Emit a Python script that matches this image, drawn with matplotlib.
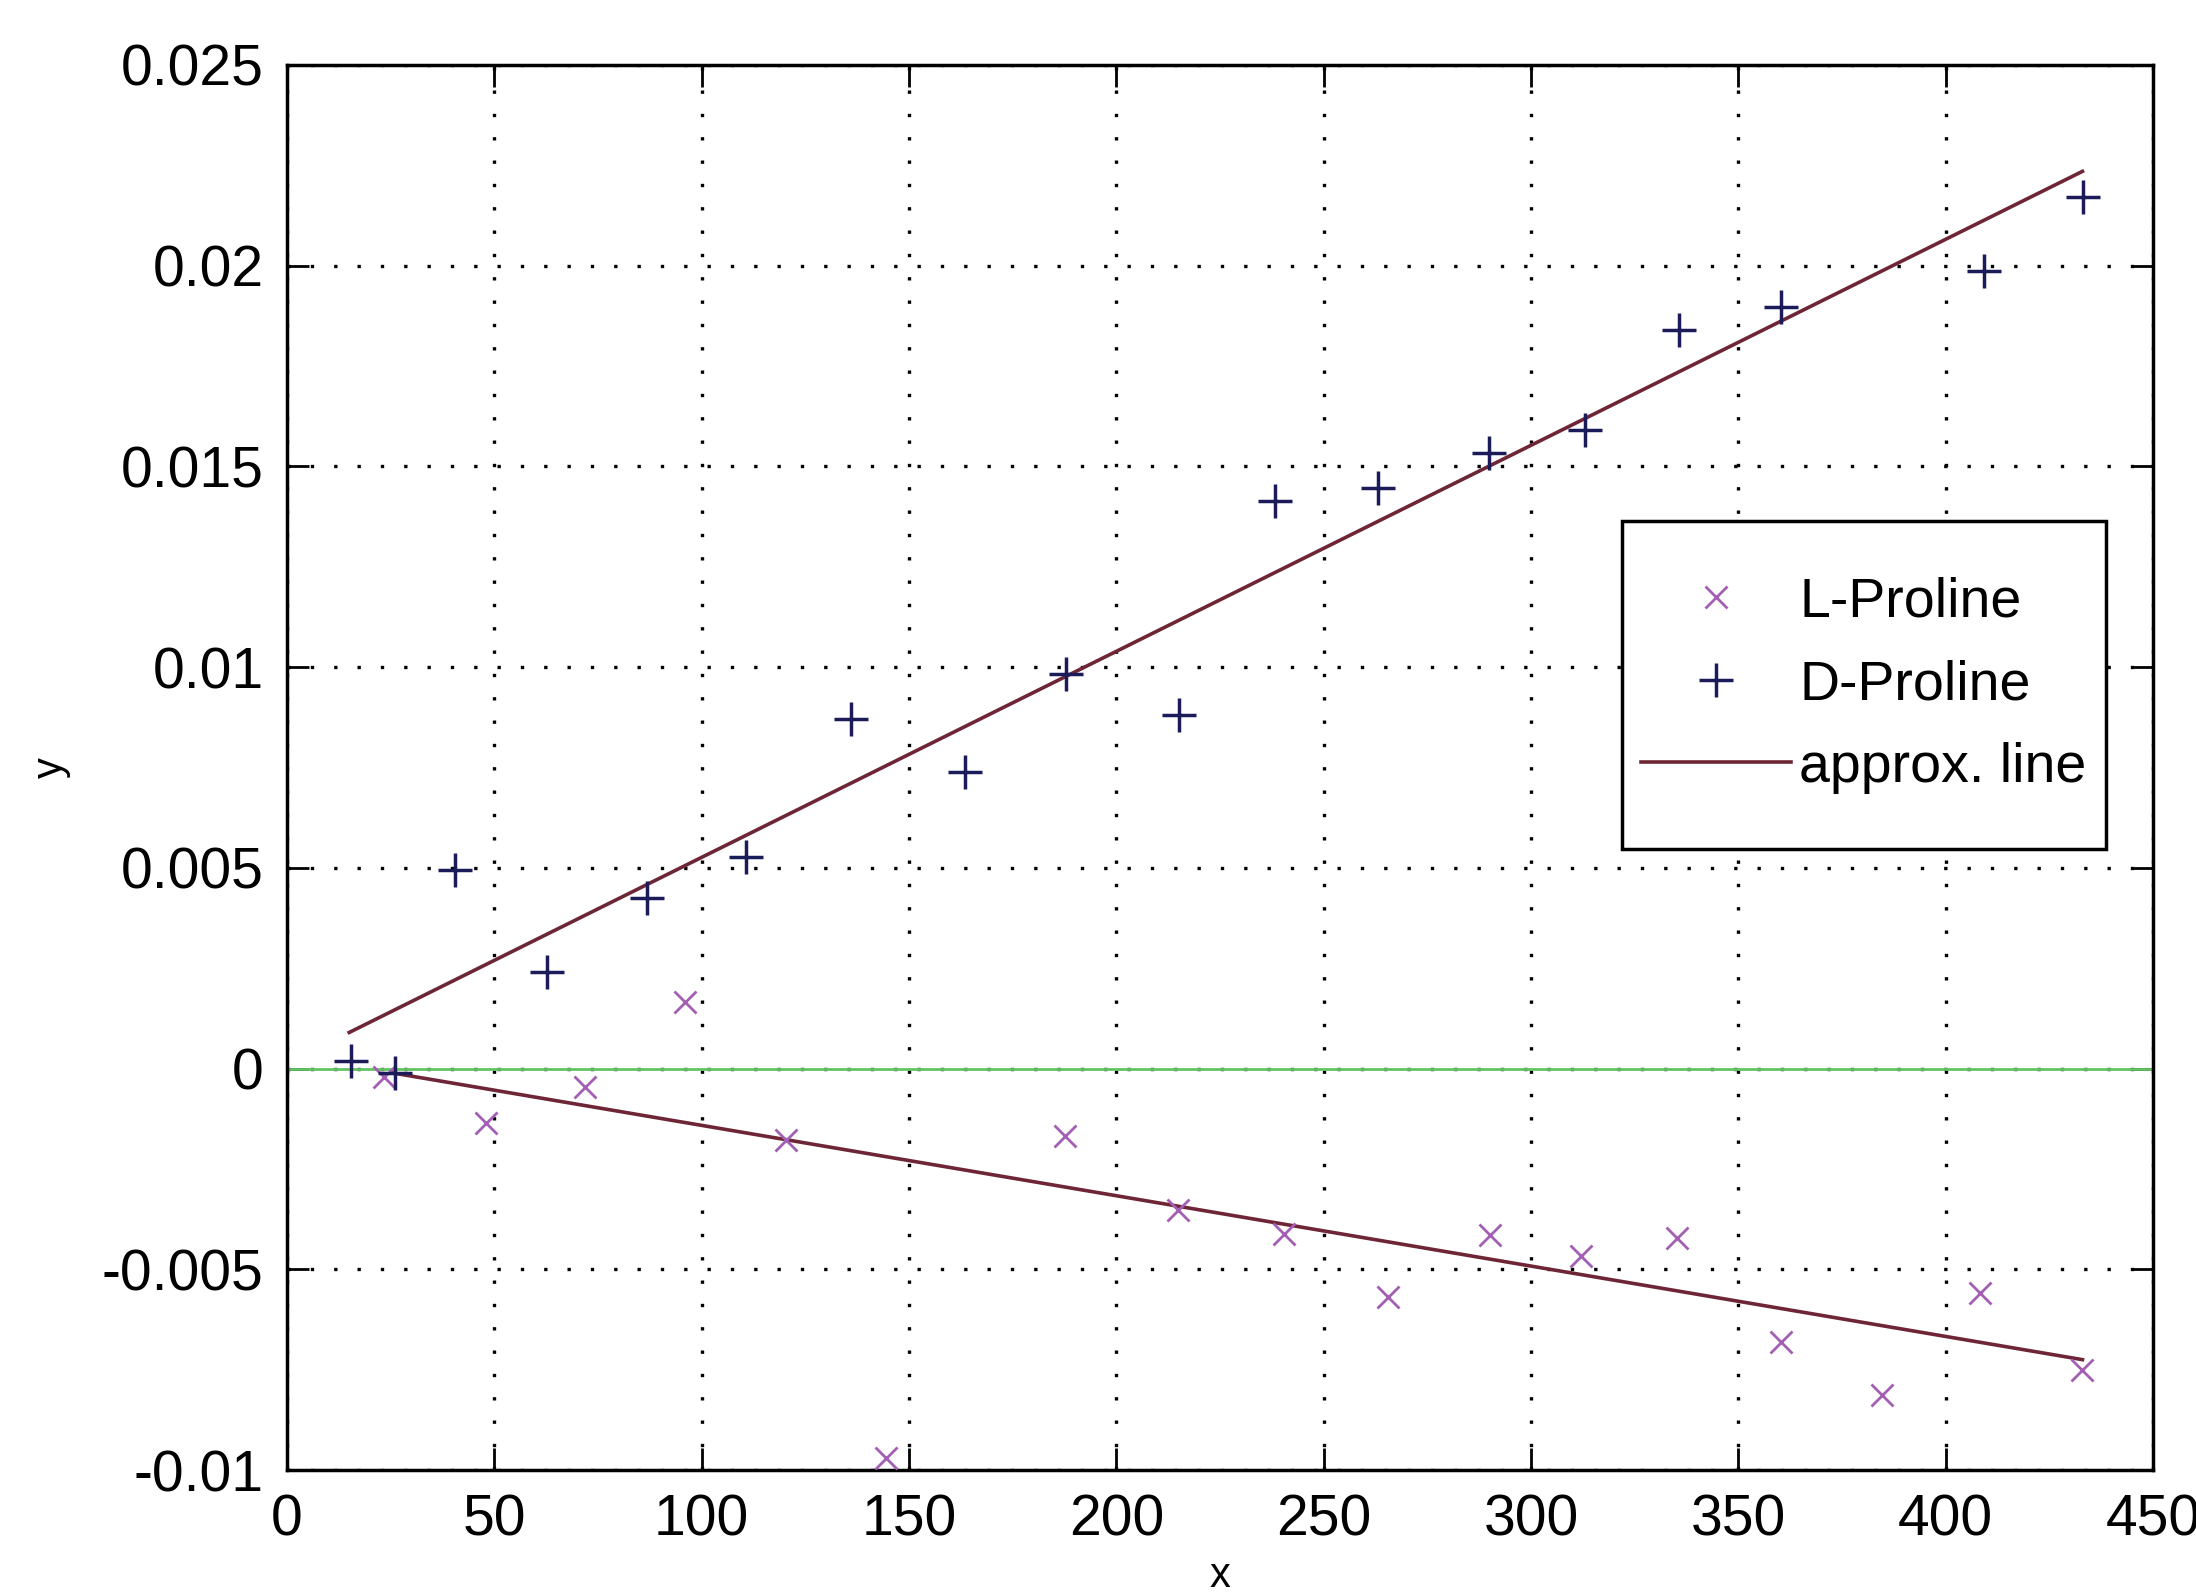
import numpy as np
import matplotlib
matplotlib.use("Agg")
import matplotlib.pyplot as plt
from matplotlib.patches import Rectangle

d_x = [15.5, 26, 40.5, 62.7, 86.7, 110.6, 136, 163.6, 187.9, 215.2, 238.2,
       263.1, 289.8, 313, 335.6, 360.3, 409.2, 433.1]
d_y = [0.0002, -0.0001, 0.00495, 0.0024, 0.00425, 0.00526, 0.00871, 0.0074,
       0.00983, 0.00882, 0.01415, 0.01447, 0.01534, 0.0159, 0.0184, 0.01896,
       0.01987, 0.02172]

l_x = [23.3, 47.9, 71.9, 96.1, 120.4, 144.4, 187.6, 214.9, 240.5, 265.5,
       290.1, 312, 335.3, 360.3, 384.6, 408.2, 432.8]
l_y = [-0.0002, -0.00136, -0.00045, 0.00167, -0.00178, -0.0097, -0.00167,
       -0.00352, -0.00411, -0.00568, -0.00415, -0.00467, -0.00422, -0.0068,
       -0.00812, -0.00558, -0.0075]

# approximation lines (end points)
fit_d_x = [15, 433]
fit_d_y = [0.0009, 0.02235]
fit_l_x = [25, 433]
fit_l_y = [-0.0001, -0.00725]

xticks = [0, 50, 100, 150, 200, 250, 300, 350, 400, 450]
yticks = [-0.01, -0.005, 0, 0.005, 0.01, 0.015, 0.02, 0.025]
ytick_labels = ['-0.01', '-0.005', '0', '0.005', '0.01', '0.015', '0.02', '0.025']

plt.rcParams['font.family'] = ['Liberation Sans', 'DejaVu Sans']

fig = plt.figure(figsize=(21.96, 15.92), dpi=100)
ax = fig.add_axes([0.1307, 0.0766, 0.9804 - 0.1307, 0.9592 - 0.0766])

ax.axhline(0, color='#63c463', lw=2, zorder=1)
ax.plot(l_x, l_y, 'x', color='#a35fb3', ms=16, mew=2.0, label='L-Proline', zorder=3)
ax.plot(d_x, d_y, '+', color='#1b1b5a', ms=25, mew=2.5, label='D-Proline', zorder=3)
ax.plot(fit_d_x, fit_d_y, '-', color='#6e2636', lw=2.6, label='approx. line', zorder=2)
ax.plot(fit_l_x, fit_l_y, '-', color='#6e2636', lw=2.6, zorder=2)

ax.set_xlim(0, 450)
ax.set_ylim(-0.01, 0.025)
ax.set_xticks(xticks)
ax.set_xticklabels([str(t) for t in xticks])
ax.set_yticks(yticks)
ax.set_yticklabels(ytick_labels)

ax.grid(True, color='black', linestyle=(0, (1, 6)), linewidth=2.4)
ax.set_axisbelow(True)
ax.tick_params(direction='in', length=16, width=2, labelsize=41, pad=17,
               top=True, right=True)
for s in ax.spines.values():
    s.set_linewidth(2.5)

ax.set_xlabel('x', fontsize=30, labelpad=6)
ax.set_ylabel('y', fontsize=30, labelpad=22)

# legend box (MATLAB style: tight on the sides, roomy top and bottom)
box = Rectangle((0.7154, 0.4420), 0.9748 - 0.7154, 0.6754 - 0.4420,
                transform=ax.transAxes, facecolor='white', edgecolor='black',
                linewidth=2.5, zorder=4)
ax.add_patch(box)
leg = ax.legend(loc='center', bbox_to_anchor=(0.8451, 0.5587), borderaxespad=0,
                fontsize=40, frameon=False, handlelength=2.7, handletextpad=0.15,
                borderpad=0, labelspacing=0.55)
leg.set_zorder(5)

fig.savefig('out.png', dpi=100, facecolor='white')
